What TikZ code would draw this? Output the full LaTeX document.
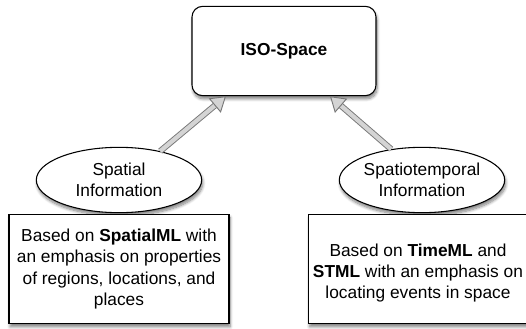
\documentclass[tikz,border=0pt]{standalone}
\usepackage{fontspec}
\setmainfont{Liberation Sans}
\definecolor{arrowgray}{RGB}{120, 120, 120}
\definecolor{arrowfill}{RGB}{212, 212, 212}
\usepackage{tikz}
\usetikzlibrary{shapes.geometric, arrows.meta, positioning, calc, shadows.blur}

\begin{document}
\begin{tikzpicture}[x=0.75pt, y=-0.75pt,
    softshadow/.style={blur shadow={shadow xshift=0.8pt, shadow yshift=-2.4pt, shadow blur steps=8, shadow blur radius=2.2pt, shadow opacity=50}},
    infobubble/.style={ellipse, draw, thick, fill=white, softshadow, minimum width=124pt, minimum height=49pt, align=center, inner sep=0pt, font=\fontsize{13}{15.5}\selectfont},
    notebox/.style={rectangle, draw, thick, fill=white, softshadow, minimum height=82pt, align=center, font=\fontsize{13}{15.8}\selectfont},
    hollowarrow/.style={draw=arrowgray, line width=0.7pt, double=arrowfill, double distance=3.2pt,
      -{Triangle[open, length=11pt, width=14pt, fill=arrowfill]}}]
  \useasboundingbox (0, 0) rectangle (526, 329);

  % Top: the target
  \node[draw, thick, fill=white, rounded corners=8pt, softshadow, minimum width=138pt, minimum height=67pt,
    font=\fontsize{13}{15}\selectfont\bfseries] (iso) at (284, 51) {ISO-Space};

  % Left: spatial side
  \node[infobubble] (spatial) at (119, 180) {Spatial\\Information};
  \node[notebox, minimum width=165pt] (spatialnote) at (119, 269)
    {Based on \textbf{SpatialML} with\\an emphasis on properties\\of regions, locations, and\\places};

  % Right: spatiotemporal side
  \node[infobubble] (spatio) at (422, 180) {Spatiotemporal\\Information};
  \node[notebox, minimum width=156pt] (spationote) at (418, 269)
    {\mbox{}\\Based on \textbf{TimeML} and\\\textbf{STML} with an emphasis on\\locating events in space};

  % Arrows
  \draw[hollowarrow] (spatial.35) -- ($(iso.south)+(-58, 0)$);
  \draw[hollowarrow] (spatio.135) -- ($(iso.south)+(46, 0)$);
\end{tikzpicture}
\end{document}
